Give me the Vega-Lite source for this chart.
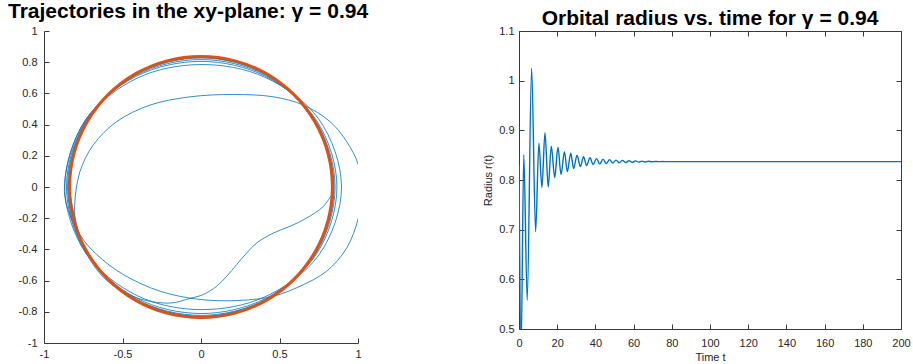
{
  "$schema": "https://vega.github.io/schema/vega-lite/v6.json",
  "background": "white",
  "padding": {"left": 8, "top": 1, "right": 5, "bottom": 0},
  "config": {
    "view": {"stroke": null},
    "font": "Liberation Sans",
    "axis": {"grid": false, "domainColor": "#3a3a3a", "tickColor": "#3a3a3a", "labelColor": "#262626", "labelFontSize": 11, "labelFont": "Liberation Sans", "tickSize": -5, "labelPadding": 10, "labelOverlap": false, "labelFlush": false, "titleFont": "Liberation Sans", "titleFontWeight": "normal", "titleFontSize": 11, "titleColor": "#262626", "domainWidth": 1},
    "title": {"font": "Liberation Sans", "fontWeight": "bold", "color": "#000000", "frame": "group"},
    "concat": {"spacing": 113}
  },
  "datasets": {
    "traj": [
      {"i":1,"x":0.832,"y":-0.05},{"i":2,"x":0.779,"y":-0.125},{"i":3,"x":0.673,"y":-0.199},{"i":4,"x":0.567,"y":-0.252},{"i":5,"x":0.461,"y":-0.295},{"i":6,"x":0.355,"y":-0.359},{"i":7,"x":0.291,"y":-0.423},{"i":8,"x":0.227,"y":-0.497},{"i":9,"x":0.164,"y":-0.572},{"i":10,"x":0.1,"y":-0.636},{"i":11,"x":0.015,"y":-0.689},{"i":12,"x":-0.07,"y":-0.714},
      {"i":13,"x":-0.199,"y":-0.744},{"i":14,"x":-0.41,"y":-0.71},{"i":15,"x":-0.6,"y":-0.6},{"i":16,"x":-0.732,"y":-0.4225},{"i":17,"x":-0.795,"y":-0.24},
      {"i":18,"x":-0.805,"y":-0.12},{"i":19,"x":-0.771,"y":0.099},{"i":20,"x":-0.686,"y":0.27},{"i":21,"x":-0.537,"y":0.419},{"i":22,"x":-0.325,"y":0.525},{"i":23,"x":-0.07,"y":0.578},{"i":24,"x":0.206,"y":0.593},{"i":25,"x":0.461,"y":0.578},{"i":26,"x":0.652,"y":0.525},{"i":27,"x":0.822,"y":0.419},{"i":28,"x":0.928,"y":0.291},{"i":29,"x":1.002,"y":0.142},{"i":30,"x":1.025,"y":-0.03},{"i":31,"x":1.002,"y":-0.199},{"i":32,"x":0.928,"y":-0.391},{"i":33,"x":0.8,"y":-0.54},{"i":34,"x":0.631,"y":-0.636},{"i":35,"x":0.461,"y":-0.7},{"i":36,"x":0.248,"y":-0.727},{"i":37,"x":-0.006,"y":-0.721},{"i":38,"x":-0.261,"y":-0.668},{"i":39,"x":-0.495,"y":-0.561},{"i":40,"x":-0.664,"y":-0.433},{"i":41,"x":-0.771,"y":-0.305},
      {"i":43,"x":-0.87,"y":-0.03},{"i":44,"x":-0.738,"y":0.426},{"i":45,"x":-0.4035,"y":0.699},{"i":46,"x":0,"y":0.785},{"i":47,"x":0.406,"y":0.704},{"i":48,"x":0.751,"y":0.434},{"i":49,"x":0.895,"y":0},{"i":50,"x":0.752,"y":-0.434},{"i":51,"x":0.407,"y":-0.704},{"i":52,"x":0,"y":-0.786},{"i":53,"x":-0.403,"y":-0.698},{"i":54,"x":-0.734,"y":-0.424},
      {"i":55,"x":-0.868,"y":0},{"i":56,"x":-0.738,"y":0.426},{"i":57,"x":-0.41,"y":0.711},{"i":58,"x":0,"y":0.805},{"i":59,"x":0.41,"y":0.71},{"i":60,"x":0.737,"y":0.425},{"i":61,"x":0.866,"y":0},{"i":62,"x":0.738,"y":-0.426},{"i":63,"x":0.412,"y":-0.714},{"i":64,"x":0,"y":-0.811},{"i":65,"x":-0.411,"y":-0.712},{"i":66,"x":-0.732,"y":-0.423},
      {"i":67,"x":-0.857,"y":0},{"i":68,"x":-0.7335,"y":0.4235},{"i":69,"x":-0.4135,"y":0.716},{"i":70,"x":0,"y":0.817},{"i":71,"x":0.413,"y":0.7156},{"i":72,"x":0.7316,"y":0.4224},{"i":73,"x":0.854,"y":0},{"i":74,"x":0.7329,"y":-0.4232},{"i":75,"x":0.4154,"y":-0.7195},{"i":76,"x":0,"y":-0.823},{"i":77,"x":-0.4149,"y":-0.7186},{"i":78,"x":-0.7303,"y":-0.4217},
      {"i":79,"x":-0.85,"y":0},{"i":80,"x":-0.7312,"y":0.4222},{"i":81,"x":-0.4164,"y":0.7212},{"i":82,"x":0,"y":0.827},{"i":83,"x":0.416,"y":0.7205},{"i":84,"x":0.7292,"y":0.421},{"i":85,"x":0.847,"y":0},{"i":86,"x":0.7296,"y":-0.4213},{"i":87,"x":0.4168,"y":-0.7218},{"i":88,"x":0,"y":-0.829},{"i":89,"x":-0.4165,"y":-0.7214},{"i":90,"x":-0.7283,"y":-0.4205},
      {"i":91,"x":-0.845,"y":0},{"i":92,"x":-0.7287,"y":0.4208},{"i":93,"x":-0.4173,"y":0.7227},{"i":94,"x":0,"y":0.831},{"i":95,"x":0.417,"y":0.7222},{"i":96,"x":0.7274,"y":0.42},{"i":97,"x":0.843,"y":0},{"i":98,"x":0.7277,"y":-0.4202},{"i":99,"x":0.4174,"y":-0.7229},{"i":100,"x":0,"y":-0.832},{"i":101,"x":-0.4173,"y":-0.7227},{"i":102,"x":-0.727,"y":-0.4198},{"i":103,"x":-0.842,"y":0}
    ],
    "circ": [
      {"i":0,"x":0.837,"y":0},{"i":1,"x":0.8085,"y":0.2166},{"i":2,"x":0.7249,"y":0.4185},{"i":3,"x":0.5918,"y":0.5918},{"i":4,"x":0.4185,"y":0.7249},{"i":5,"x":0.2166,"y":0.8085},{"i":6,"x":0,"y":0.837},{"i":7,"x":-0.2166,"y":0.8085},{"i":8,"x":-0.4185,"y":0.7249},{"i":9,"x":-0.5918,"y":0.5918},{"i":10,"x":-0.7249,"y":0.4185},{"i":11,"x":-0.8085,"y":0.2166},{"i":12,"x":-0.837,"y":0},{"i":13,"x":-0.8085,"y":-0.2166},{"i":14,"x":-0.7249,"y":-0.4185},{"i":15,"x":-0.5918,"y":-0.5918},{"i":16,"x":-0.4185,"y":-0.7249},{"i":17,"x":-0.2166,"y":-0.8085},{"i":18,"x":0,"y":-0.837},{"i":19,"x":0.2166,"y":-0.8085},{"i":20,"x":0.4185,"y":-0.7249},{"i":21,"x":0.5918,"y":-0.5918},{"i":22,"x":0.7249,"y":-0.4185},{"i":23,"x":0.8085,"y":-0.2166}
    ],
    "rt": [
      {"t":0,"r":0.83},{"t":1.1,"r":0.46},{"t":2.5,"r":0.851},{"t":4.3,"r":0.558},{"t":6.6,"r":1.025},{"t":8.7,"r":0.696},{"t":10.4,"r":0.874},{"t":12.0,"r":0.785},{"t":13.6,"r":0.895},{"t":15.3,"r":0.786},{"t":16.9,"r":0.868},{"t":18.7,"r":0.805},{"t":20.4,"r":0.866},{"t":22.0,"r":0.811},{"t":23.8,"r":0.857},{"t":25.3,"r":0.817},{"t":27.1,"r":0.854},{"t":28.6,"r":0.823},{"t":30.4,"r":0.85},{"t":32.1,"r":0.827},{"t":33.8,"r":0.847},{"t":35.4,"r":0.829},{"t":37.2,"r":0.845},{"t":38.8,"r":0.831},{"t":40.6,"r":0.843},{"t":42.3,"r":0.832},{"t":44.0,"r":0.842},{"t":45.7,"r":0.833},{"t":47.4,"r":0.841},{"t":49.1,"r":0.834},{"t":50.8,"r":0.84},{"t":52.5,"r":0.8345},{"t":54.2,"r":0.8395},{"t":55.9,"r":0.835},{"t":57.6,"r":0.839},{"t":59.3,"r":0.8355},{"t":61.0,"r":0.8385},{"t":62.7,"r":0.836},{"t":64.4,"r":0.838},{"t":66.1,"r":0.8363},{"t":67.8,"r":0.8377},{"t":69.5,"r":0.8366},{"t":71.2,"r":0.8374},{"t":73,"r":0.8369},{"t":75,"r":0.8371},{"t":78,"r":0.837},{"t":200,"r":0.837}
    ]
  },
  "hconcat": [
    {
      "width": 314,
      "height": 312,
      "title": {"text": "Trajectories in the xy-plane: γ = 0.94", "fontSize": 21, "anchor": "start", "dx": -36, "offset": 3},
      "layer": [
        {
          "data": {"name": "traj"},
          "mark": {"type": "line", "interpolate": "catmull-rom", "clip": true, "color": "#0072BD", "strokeWidth": 0.8},
          "encoding": {
            "x": {"field": "x", "type": "quantitative", "scale": {"domain": [-1, 1], "nice": false, "zero": false}, "axis": {"values": [-1, -0.5, 0, 0.5, 1], "title": null, "labelPadding": 10, "labelOverlap": false, "labelExpr": "replace(format(datum.value, '~g'), '−', '-')"}},
            "y": {"field": "y", "type": "quantitative", "scale": {"domain": [-1, 1], "nice": false, "zero": false}, "axis": {"values": [-1, -0.8, -0.6, -0.4, -0.2, 0, 0.2, 0.4, 0.6, 0.8, 1], "tickCount": 11, "title": null, "labelPadding": 12, "labelOverlap": false, "labelSeparation": 0, "labelExpr": "replace(format(datum.value, '~g'), '−', '-')"}},
            "order": {"field": "i", "type": "quantitative"}
          }
        },
        {
          "data": {"name": "circ"},
          "mark": {"type": "line", "interpolate": "cardinal-closed", "clip": true, "color": "#D95319", "strokeWidth": 3},
          "encoding": {
            "x": {"field": "x", "type": "quantitative", "axis": {"values": [-1, -0.5, 0, 0.5, 1], "title": null, "labelPadding": 10, "labelOverlap": false, "labelExpr": "replace(format(datum.value, '~g'), '−', '-')"}},
            "y": {"field": "y", "type": "quantitative", "axis": {"values": [-1, -0.8, -0.6, -0.4, -0.2, 0, 0.2, 0.4, 0.6, 0.8, 1], "tickCount": 11, "title": null, "labelPadding": 12, "labelOverlap": false, "labelSeparation": 0, "labelExpr": "replace(format(datum.value, '~g'), '−', '-')"}},
            "order": {"field": "i", "type": "quantitative"}
          }
        }
      ]
    },
    {
      "width": 382,
      "height": 298,
      "title": {"text": "Orbital radius vs. time for γ = 0.94", "fontSize": 21, "anchor": "middle", "offset": -4},
      "layer": [
        {
          "data": {"name": "rt"},
          "mark": {"type": "line", "interpolate": "monotone", "clip": true, "color": "#0072BD", "strokeWidth": 1.4},
          "encoding": {
            "x": {"field": "t", "type": "quantitative", "scale": {"domain": [0, 200], "nice": false, "zero": false}, "axis": {"values": [0, 20, 40, 60, 80, 100, 120, 140, 160, 180, 200], "title": "Time t", "labelPadding": 13, "titlePadding": 3}},
            "y": {"field": "r", "type": "quantitative", "scale": {"domain": [0.5, 1.1], "nice": false, "zero": false}, "axis": {"values": [0.5, 0.6, 0.7, 0.8, 0.9, 1, 1.1], "title": "Radius r(t)", "labelPadding": 10, "titlePadding": 5, "labelExpr": "format(datum.value, '~g')"}}
          }
        },
        {
          "data": {"name": "rt"},
          "mark": {"type": "line", "opacity": 0},
          "encoding": {
            "x": {"field": "t", "type": "quantitative", "scale": {"domain": [0, 200], "nice": false, "zero": false}, "axis": {"orient": "top", "values": [0, 20, 40, 60, 80, 100, 120, 140, 160, 180, 200], "labels": false, "title": null}},
            "y": {"field": "r", "type": "quantitative", "scale": {"domain": [0.5, 1.1], "nice": false, "zero": false}, "axis": {"orient": "right", "values": [0.5, 0.6, 0.7, 0.8, 0.9, 1, 1.1], "labels": false, "title": null}}
          }
        }
      ],
      "resolve": {"scale": {"x": "independent", "y": "independent"}}
    }
  ]
}
